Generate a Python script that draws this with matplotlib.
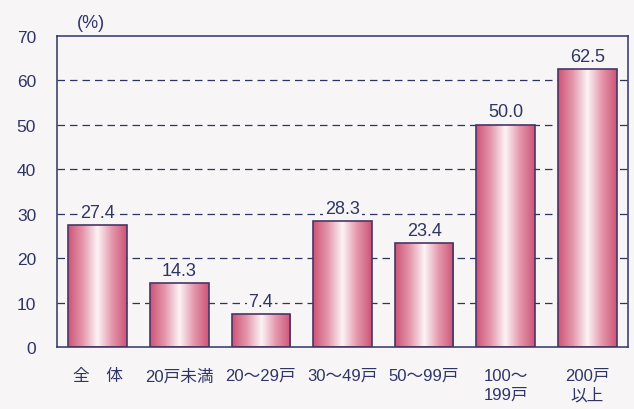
import numpy as np
import matplotlib.pyplot as plt
from matplotlib.colors import LinearSegmentedColormap

plt.rcParams['font.family'] = ['Liberation Sans', 'Noto Sans CJK JP']

categories = ['全　体', '20戸未満', '20～29戸', '30～49戸', '50～99戸', '100～\n199戸', '200戸\n以上']
values = [27.4, 14.3, 7.4, 28.3, 23.4, 50.0, 62.5]
yticks = [0, 10, 20, 30, 40, 50, 60, 70]

navy = '#2e3566'
bg = '#f7f5f5'

fig = plt.figure(figsize=(6.34, 4.10), dpi=100, facecolor=bg)
ax = fig.add_axes([57 / 634, 62 / 410, 571 / 634, 311 / 410])
ax.set_facecolor(bg)

x = np.arange(len(values))
bars = ax.bar(x, values, width=0.72, color='none', edgecolor='#4a3565', linewidth=1.2, zorder=3)

# horizontal pink -> white -> pink shading inside each bar
cmap = LinearSegmentedColormap.from_list('pk', ['#cc5476', '#e596ab', '#fbf4f6', '#e596ab', '#cc5476'])
grad = np.linspace(0, 1, 256).reshape(1, -1)
for b in bars:
    im = ax.imshow(grad, cmap=cmap, aspect='auto', zorder=2,
                   extent=[b.get_x(), b.get_x() + b.get_width(), 0, b.get_height()])
    im.set_clip_path(b)

for xi, v in zip(x, values):
    ax.text(xi, v + 1.0, f'{v:.1f}', ha='center', va='bottom', fontsize=13, color=navy, zorder=4,
            bbox=dict(boxstyle='square,pad=0.1', fc=bg, ec='none'))

ax.set_xlim(-0.5, len(values) - 0.5)
ax.set_ylim(0, 70)
ax.set_yticks(yticks)
ax.set_yticklabels([str(t) for t in yticks], fontsize=12.5, color=navy)
ax.set_xticks(x)
ax.set_xticklabels(categories, fontsize=12, color=navy, linespacing=1.3, va='top')
ax.tick_params(axis='y', length=0, pad=15)
ax.tick_params(axis='x', length=0, pad=15)

for t in yticks[1:-1]:
    ax.axhline(t, color=navy, linestyle=(0, (6, 4)), linewidth=0.9, zorder=1)

for s in ax.spines.values():
    s.set_color(navy)
    s.set_linewidth(1.1)

fig.text(77 / 634, 1 - 24 / 410, '(%)', fontsize=13, color=navy, va='center')

fig.savefig('out.png', dpi=100, facecolor=bg)
